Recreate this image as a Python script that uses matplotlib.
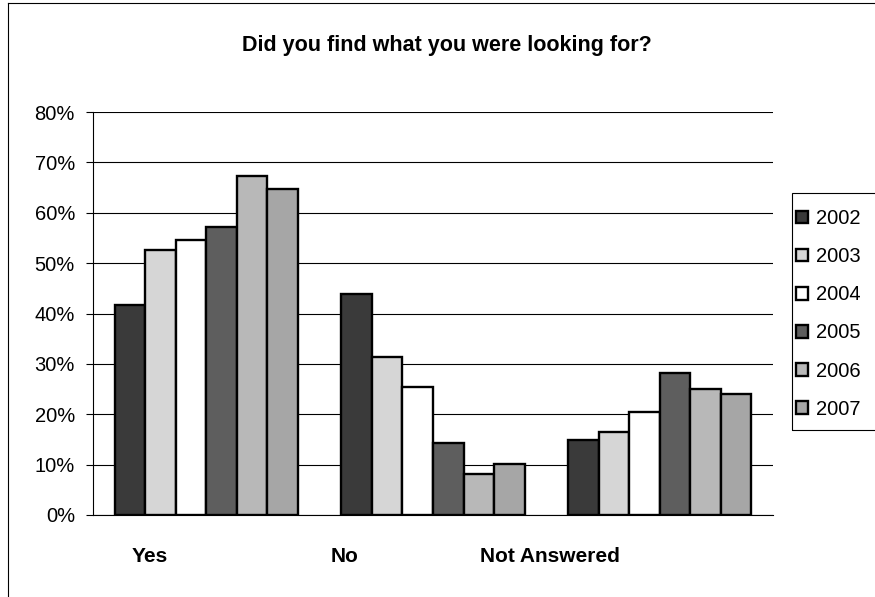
import numpy as np
import matplotlib
matplotlib.use('Agg')
import matplotlib.pyplot as plt
from matplotlib.lines import Line2D
from matplotlib.patches import Rectangle
from matplotlib.ticker import FuncFormatter

plt.rcParams['font.family'] = ['Liberation Sans', 'DejaVu Sans']

# data
categories = ['Yes', 'No', 'Not Answered']
years = ['2002', '2003', '2004', '2005', '2006', '2007']
yes_vals = [41.7, 52.6, 54.6, 57.1, 67.2, 64.8]
no_vals = [43.8, 31.3, 25.4, 14.3, 8.1, 10.2]
na_vals = [14.9, 16.4, 20.4, 28.2, 25.0, 24.0]
colors = ['#3a3a3a', '#d6d6d6', '#ffffff', '#5e5e5e', '#b8b8b8', '#a6a6a6']

vals = np.array([yes_vals, no_vals, na_vals])  # categories x years

fig = plt.figure(figsize=(8.75, 5.97), dpi=100)
ax = fig.add_axes([93/875, 1-515/597, 680/875, 403/597])

x = np.arange(len(categories))
w = 0.1346
for i, yr in enumerate(years):
    ax.bar(x + (i - 2.5) * w, vals[:, i], width=w, color=colors[i],
           edgecolor='black', linewidth=1.7, label=yr, zorder=3)

ax.set_xlim(-0.5, 2.5)
ax.set_ylim(0, 80)
ax.set_yticks(np.arange(0, 81, 10))
ax.yaxis.set_major_formatter(FuncFormatter(lambda v, p: '%d%%' % v))
ax.tick_params(axis='y', labelsize=14.5, length=5, width=0.8, pad=8, direction='out')
ax.set_xticks([])
ax.yaxis.grid(True, color='black', linewidth=0.8, zorder=0)
for s in ['top', 'right']:
    ax.spines[s].set_visible(False)
ax.spines['left'].set_linewidth(0.8)
ax.spines['bottom'].set_linewidth(0.8)

# category labels sit a bit off-centre, as in the original
label_x = [-0.249, 0.612, 1.516]
for lx, c in zip(label_x, categories):
    ax.text(lx, -0.104, c, transform=ax.get_xaxis_transform(), ha='center',
            va='center', fontsize=15, fontweight='bold')

fig.text(447/875, 1-45/597, 'Did you find what you were looking for?',
         ha='center', va='center', fontsize=15.5, fontweight='bold')

# legend without frame, box drawn by hand so it runs off the right edge
leg = fig.legend(loc='upper left', bbox_to_anchor=(796/875, 1-209/597),
                 fontsize=14.5, frameon=False,
                 handlelength=0.6, handleheight=0.6, handletextpad=0.4,
                 labelspacing=0.95, borderpad=0, borderaxespad=0)
fig.add_artist(Rectangle((792/875, 1-430/597), 0.2, 237/597, transform=fig.transFigure,
                         fill=False, edgecolor='black', lw=0.8))

# chart border (left and top visible)
fig.add_artist(Line2D([8/875, 8/875], [0, 1-3/597], color='black', lw=0.8))
fig.add_artist(Line2D([8/875, 1], [1-3/597, 1-3/597], color='black', lw=0.8))

fig.savefig('out.png', dpi=100)
